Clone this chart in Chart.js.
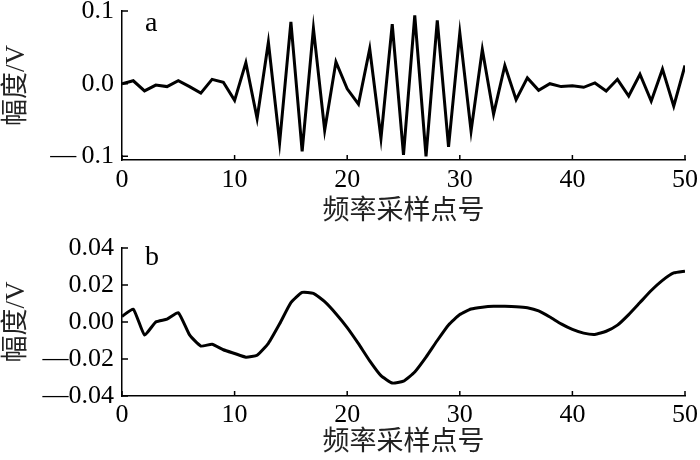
<!DOCTYPE html>
<html>
<head>
<meta charset="utf-8">
<script src="https://cdn.jsdelivr.net/npm/chart.js@4"></script>
<style>
  body { margin: 0; background: #fff; }
  .panel { position: absolute; left: 0; width: 700px; height: 230px; }
</style>
</head>
<body>
<div class="panel" style="top:0"><canvas id="graficoA" width="700" height="230"></canvas></div>
<div class="panel" style="top:230px"><canvas id="graficoB" width="700" height="230"></canvas></div>
<script>
// eixo x: pontos de amostragem 0..50
const pontos = [0,1,2,3,4,5,6,7,8,9,10,11,12,13,14,15,16,17,18,19,20,21,22,23,24,25,
  26,27,28,29,30,31,32,33,34,35,36,37,38,39,40,41,42,43,44,45,46,47,48,49,50];

const sinalA = [0.000, 0.004, -0.010, -0.002, -0.004, 0.004, -0.004, -0.013, 0.006, 0.002,
  -0.023, 0.029, -0.048, 0.057, -0.081, 0.085, -0.093, 0.076, -0.064, 0.030,
  -0.007, -0.028, 0.048, -0.075, 0.082, -0.098, 0.094, -0.100, 0.087, -0.087,
  0.070, -0.065, 0.047, -0.042, 0.025, -0.022, 0.008, -0.009, 0.000, -0.004,
  -0.003, -0.005, 0.001, -0.010, 0.006, -0.017, 0.013, -0.024, 0.020, -0.031, 0.025];

const sinalB = [0.003, 0.007, -0.007, 0.000, 0.0015, 0.005, -0.007, -0.013, -0.012, -0.015,
  -0.017, -0.019, -0.018, -0.0115, -0.001, 0.0105, 0.016, 0.0155, 0.011, 0.0045,
  -0.003, -0.0117, -0.021, -0.029, -0.033, -0.032, -0.027, -0.019, -0.010, -0.0016,
  0.004, 0.007, 0.008, 0.0085, 0.0085, 0.0083, 0.0077, 0.006, 0.0027, -0.001,
  -0.004, -0.006, -0.0067, -0.005, -0.0017, 0.004, 0.0105, 0.017, 0.0225, 0.0265, 0.0275];

const ticksX = [0, 10, 20, 30, 40, 50];
const ticksYA = [-0.1, 0, 0.1];
const ticksYB = [-0.04, -0.02, 0, 0.02, 0.04];

const fonteSerif = "'Liberation Serif', 'Noto Sans CJK SC', serif";
const tituloX = '频率采样点号';
const tituloY = '幅度/V';

Chart.defaults.font.family = fonteSerif;
Chart.defaults.font.size = 26;
Chart.defaults.color = '#000';

// marcas de escala para dentro + letra do painel
const marcasInternas = {
  id: 'marcasInternas',
  afterDraw(chart, args, opts) {
    const ctx = chart.ctx;
    const x = chart.scales.x, y = chart.scales.y;
    const area = chart.chartArea;
    ctx.save();
    ctx.strokeStyle = '#000';
    ctx.lineWidth = 1.5;
    ctx.beginPath();
    x.ticks.forEach((t, i) => {
      const px = x.getPixelForTick(i);
      ctx.moveTo(px, area.bottom);
      ctx.lineTo(px, area.bottom - 5);
    });
    y.ticks.forEach((t, i) => {
      const py = y.getPixelForTick(i);
      ctx.moveTo(area.left, py);
      ctx.lineTo(area.left + 6, py);
    });
    ctx.stroke();
    ctx.fillStyle = '#000';
    ctx.font = '28px ' + fonteSerif;
    ctx.textBaseline = 'alphabetic';
    ctx.fillText(opts.letra, area.left + 23, area.top + opts.dy);
    ctx.restore();
  }
};

function criarGrafico(id, dados, ticksY, minY, maxY, cfg) {
  const ctx = document.getElementById(id).getContext('2d');
  return new Chart(ctx, {
    type: 'line',
    data: {
      labels: pontos,
      datasets: [{
        data: pontos.map((p, i) => ({ x: p, y: dados[i] })),
        borderColor: '#000',
        borderWidth: 3,
        pointRadius: 0,
        tension: cfg.tensao,
        fill: false
      }]
    },
    options: {
      responsive: false,
      animation: false,
      devicePixelRatio: 1,
      layout: { padding: { top: cfg.topo, right: 15, left: 0, bottom: 0 } },
      plugins: {
        legend: { display: false },
        tooltip: { enabled: false },
        marcasInternas: { letra: cfg.letra, dy: cfg.dyLetra }
      },
      scales: {
        x: {
          type: 'linear',
          min: 0,
          max: 50,
          afterBuildTicks: s => { s.ticks = ticksX.map(v => ({ value: v })); },
          afterFit: s => { s.height = cfg.alturaX; s.paddingLeft = 0; s.paddingRight = 0; },
          grid: { display: false, drawTicks: false },
          border: { display: true, color: '#000', width: 1.5 },
          ticks: { color: '#000', padding: cfg.padX, maxRotation: 0, font: { family: fonteSerif, size: 26 } },
          title: {
            display: true,
            text: tituloX,
            color: '#222',
            padding: { top: 0, bottom: cfg.padTituloX },
            font: { family: fonteSerif, size: 27, lineHeight: 1.2 }
          }
        },
        y: {
          min: minY,
          max: maxY,
          afterBuildTicks: s => { s.ticks = ticksY.map(v => ({ value: v })); },
          afterFit: s => { s.width = 122; s.paddingTop = 0; s.paddingBottom = 0; },
          grid: { display: false, drawTicks: false },
          border: { display: true, color: '#000', width: 1.5 },
          ticks: {
            color: '#000',
            padding: 8,
            font: { family: fonteSerif, size: 26 },
            callback: v => cfg.rotulo(v)
          },
          title: {
            display: true,
            text: tituloY,
            color: '#222',
            padding: { top: 1, bottom: 0 },
            font: { family: fonteSerif, size: 27, lineHeight: 1.2 }
          }
        }
      }
    },
    plugins: [marcasInternas]
  });
}

criarGrafico('graficoA', sinalA, ticksYA, -0.105, 0.1, {
  topo: 11, alturaX: 70, padX: 5, padTituloX: 2, letra: 'a', dyLetra: 20, tensao: 0,
  rotulo: v => v < 0 ? '\u2014\u2009' + Math.abs(v).toFixed(1) : v.toFixed(1)
});

criarGrafico('graficoB', sinalB, ticksYB, -0.04, 0.04, {
  topo: 18, alturaX: 64, padX: 4, padTituloX: 1, letra: 'b', dyLetra: 17, tensao: 0.15,
  rotulo: v => v < 0 ? '\u2014' + Math.abs(v).toFixed(2) : v.toFixed(2)
});
</script>
</body>
</html>
